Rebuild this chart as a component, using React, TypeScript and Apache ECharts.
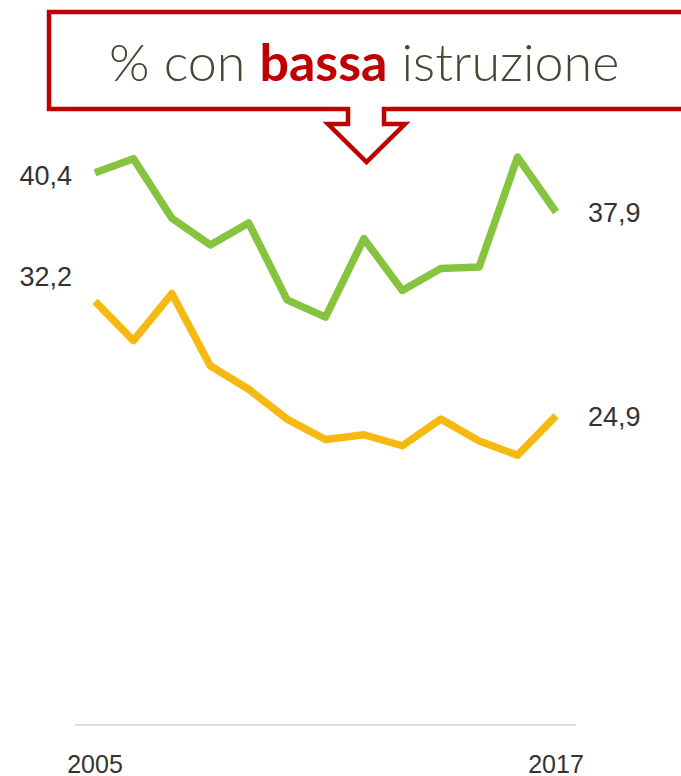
import React, { useEffect, useRef } from "react";
import * as echarts from "echarts";

const years = ["2005", "2006", "2007", "2008", "2009", "2010", "2011", "2012", "2013", "2014", "2015", "2016", "2017"];
const greenValues = [40.4, 41.3, 37.5, 35.8, 37.2, 32.3, 31.2, 36.2, 32.9, 34.3, 34.4, 41.4, 37.9];
const yellowValues = [32.2, 29.7, 32.7, 28.1, 26.6, 24.7, 23.4, 23.7, 23.0, 24.7, 23.3, 22.4, 24.9];
const titleParts = ["% con ", "bassa", " istruzione"];

const fmt = (v: number) => v.toFixed(1).replace(".", ",");

const labelFont = "'Liberation Sans', Arial, sans-serif";

function buildData(values: number[], firstOffset: number[]) {
  return values.map((v, i) => {
    if (i === 0) {
      return {
        value: v,
        label: { show: true, position: "left", distance: 23, offset: firstOffset },
      };
    }
    if (i === values.length - 1) {
      return {
        value: v,
        label: { show: true, position: "right", distance: 32, offset: [0, 1] },
      };
    }
    return v;
  });
}

export default function App() {
  const ref = useRef<HTMLDivElement>(null);
  useEffect(() => {
    if (!ref.current) return;
    const chart = echarts.init(ref.current, undefined, { renderer: "svg" });
    const seriesLabel = {
      show: false,
      formatter: (p: any) => fmt(p.value),
      color: "#333333",
      fontSize: 27,
      fontFamily: labelFont,
    };
    chart.setOption({
      animation: false,
      backgroundColor: "#ffffff",
      grid: { left: 75.8, width: 499.4, top: 100.6, bottom: 776 - 727 },
      xAxis: {
        type: "category",
        data: years,
        boundaryGap: true,
        axisLine: { show: true, onZero: false, lineStyle: { color: "#dcdcdc", width: 2 } },
        axisTick: { show: false },
        splitLine: { show: false },
        axisLabel: {
          interval: (idx: number) => idx === 0 || idx === years.length - 1,
          color: "#333333",
          fontSize: 25,
          fontFamily: labelFont,
          margin: 26,
        },
      },
      yAxis: {
        type: "value",
        min: 5.2,
        max: 45,
        show: false,
      },
      series: [
        {
          type: "line",
          name: "verde",
          data: buildData(greenValues, [0, 3]),
          showSymbol: true,
          symbol: "circle",
          symbolSize: 0.1,
          lineStyle: { color: "#86c440", width: 7.5, join: "round" },
          itemStyle: { color: "#86c440" },
          label: seriesLabel,
        },
        {
          type: "line",
          name: "giallo",
          data: buildData(yellowValues, [0, -24]),
          showSymbol: true,
          symbol: "circle",
          symbolSize: 0.1,
          lineStyle: { color: "#f5b90f", width: 7.5, join: "round" },
          itemStyle: { color: "#f5b90f" },
          label: seriesLabel,
        },
      ],
      graphic: [
        {
          type: "polygon",
          z: 100,
          shape: {
            points: [
              [49, 12],
              [695, 12],
              [695, 109],
              [384, 109],
              [384, 124],
              [405, 124],
              [366.5, 162],
              [328, 124],
              [348, 124],
              [348, 109],
              [49, 109],
            ],
          },
          style: { fill: "#ffffff", stroke: "#c00000", lineWidth: 4.5, lineJoin: "miter" },
        },
        {
          type: "text",
          z: 101,
          x: 109,
          y: 61,
          style: {
            text: `{a|${titleParts[0]}}{b|${titleParts[1]}}{a|${titleParts[2]}}`,
            textVerticalAlign: "middle",
            verticalAlign: "middle",
            align: "left",
            rich: {
              a: { fontSize: 52, fontFamily: "Lato, 'Open Sans', sans-serif", fontWeight: 300, fill: "#4a4636", color: "#4a4636" },
              b: { fontSize: 52, fontFamily: "Lato, 'Open Sans', sans-serif", fontWeight: "bold", fill: "#c00000", color: "#c00000" },
            },
          },
        },
      ],
    });
    return () => chart.dispose();
  }, []);
  return (
    <div
      ref={ref}
      style={{ position: "absolute", left: 0, top: 0, width: 681, height: 776 }}
    />
  );
}
